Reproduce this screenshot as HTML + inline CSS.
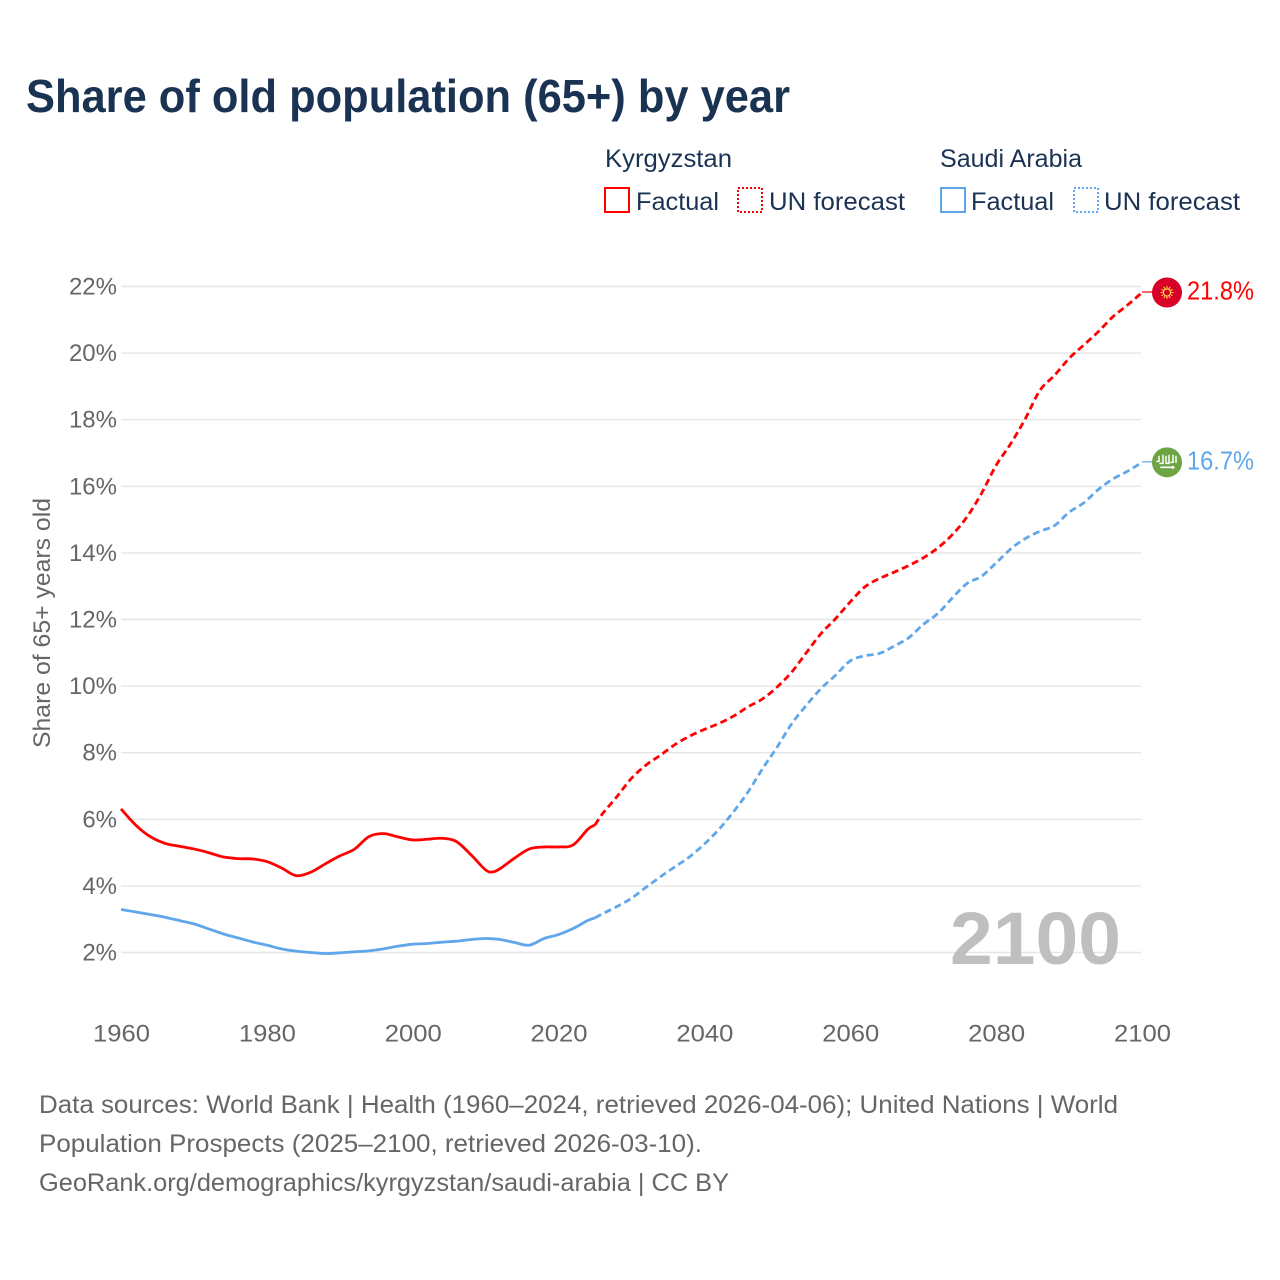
<!DOCTYPE html>
<html lang="en">
<head>
<meta charset="utf-8">
<title>Share of old population (65+) by year</title>
<style>
html,body{margin:0;padding:0;background:#fff}
svg{display:block}
text{font-family:"Liberation Sans",sans-serif}
</style>
</head>
<body>
<svg id="chart" xmlns="http://www.w3.org/2000/svg" width="1280" height="1280" viewBox="0 0 1280 1280">
  <rect width="1280" height="1280" fill="#fff"/>
  <text x="26" y="112" font-size="46" font-weight="700" fill="#1a3353" textLength="764" lengthAdjust="spacingAndGlyphs">Share of old population (65+) by year</text>

  <g font-size="25" fill="#1a3353">
    <text x="605" y="167" textLength="127" lengthAdjust="spacingAndGlyphs">Kyrgyzstan</text>
    <text x="940" y="167" textLength="142" lengthAdjust="spacingAndGlyphs">Saudi Arabia</text>
    <g>
      <rect x="605" y="188" width="24" height="24" fill="none" stroke="#ff0000" stroke-width="2"/>
      <text x="636" y="210" textLength="83" lengthAdjust="spacingAndGlyphs">Factual</text>
    </g>
    <g>
      <rect x="738" y="188" width="24" height="24" fill="none" stroke="#ff0000" stroke-width="2" stroke-dasharray="2 2"/>
      <text x="769" y="210" textLength="136" lengthAdjust="spacingAndGlyphs">UN forecast</text>
    </g>
    <g>
      <rect x="941" y="188" width="24" height="24" fill="none" stroke="#5fa6ea" stroke-width="2"/>
      <text x="971" y="210" textLength="83" lengthAdjust="spacingAndGlyphs">Factual</text>
    </g>
    <g>
      <rect x="1074" y="188" width="24" height="24" fill="none" stroke="#5fa6ea" stroke-width="2" stroke-dasharray="2 2"/>
      <text x="1104" y="210" textLength="136" lengthAdjust="spacingAndGlyphs">UN forecast</text>
    </g>
  </g>

  <text transform="translate(50,748) rotate(-90)" font-size="24" fill="#666" textLength="250" lengthAdjust="spacingAndGlyphs">Share of 65+ years old</text>

  <g id="grid"></g>
  <g id="yticks"></g>
  <g id="xticks"></g>

  <text x="950" y="964" font-size="74" font-weight="700" fill="#bfbfbf" textLength="171" lengthAdjust="spacingAndGlyphs">2100</text>

  <g id="series"></g>
  <g id="ends"></g>

  <g font-size="25" fill="#666">
    <text x="39" y="1113" textLength="1079" lengthAdjust="spacingAndGlyphs">Data sources: World Bank | Health (1960–2024, retrieved 2026-04-06); United Nations | World</text>
    <text x="39" y="1152" textLength="663" lengthAdjust="spacingAndGlyphs">Population Prospects (2025–2100, retrieved 2026-03-10).</text>
    <text x="39" y="1191" textLength="690" lengthAdjust="spacingAndGlyphs">GeoRank.org/demographics/kyrgyzstan/saudi-arabia | CC BY</text>
  </g>
</svg>
<script>
const years = [1960,1962,1964,1966,1968,1970,1972,1974,1976,1978,1980,1982,1984,1986,1988,1990,1992,1994,1996,1998,2000,2002,2004,2006,2008,2010,2011,2012,2014,2016,2018,2020,2022,2024,2025,2026,2028,2030,2032,2034,2036,2038,2040,2042,2044,2046,2048,2050,2052,2054,2056,2058,2060,2062,2064,2066,2068,2070,2072,2074,2076,2078,2080,2082,2084,2086,2088,2090,2092,2094,2096,2098,2100];
const kyrgyzstan = [6.31,5.83,5.48,5.28,5.19,5.11,5.0,4.87,4.82,4.81,4.73,4.54,4.31,4.41,4.66,4.9,5.1,5.48,5.57,5.47,5.38,5.4,5.43,5.33,4.93,4.48,4.42,4.52,4.84,5.11,5.17,5.17,5.23,5.7,5.83,6.16,6.68,7.23,7.63,7.93,8.25,8.5,8.7,8.88,9.1,9.38,9.62,9.98,10.43,11.01,11.58,12.03,12.53,12.98,13.23,13.42,13.62,13.85,14.15,14.55,15.08,15.79,16.63,17.28,18.03,18.88,19.33,19.84,20.24,20.64,21.09,21.44,21.82];
const saudiArabia = [3.29,3.22,3.14,3.06,2.96,2.86,2.71,2.56,2.44,2.32,2.22,2.11,2.04,2.0,1.97,1.99,2.02,2.05,2.11,2.19,2.25,2.27,2.31,2.34,2.39,2.42,2.41,2.39,2.3,2.22,2.42,2.54,2.72,2.96,3.04,3.16,3.38,3.63,3.96,4.28,4.58,4.88,5.26,5.7,6.23,6.83,7.53,8.18,8.88,9.43,9.93,10.33,10.76,10.91,10.98,11.2,11.45,11.85,12.18,12.65,13.08,13.3,13.7,14.12,14.43,14.65,14.82,15.22,15.5,15.9,16.22,16.45,16.72];
const lastFactualYear = 2025;
const yTickValues = [2,4,6,8,10,12,14,16,18,20,22];
const yTickLabels = ['2%','4%','6%','8%','10%','12%','14%','16%','18%','20%','22%'];
const xTickValues = [1960,1980,2000,2020,2040,2060,2080,2100];
const xTickLabels = ['1960','1980','2000','2020','2040','2060','2080','2100'];

const NS = 'http://www.w3.org/2000/svg';
function xScale(year){ return 121 + (year - 1960) * (1021 / 140); }
function yScale(v){ return 952.5 - (v - 2) * 33.3; }
function mk(tag, parent, props){
  const el = document.createElementNS(NS, tag);
  for (const k in props) el.setAttribute(k, props[k]);
  parent.appendChild(el);
  return el;
}
function smoothPath(pts){
  let d = 'M' + pts[0][0].toFixed(2) + ' ' + pts[0][1].toFixed(2);
  for (let i = 0; i < pts.length - 1; i++){
    const p0 = pts[Math.max(0, i - 1)], p1 = pts[i], p2 = pts[i + 1], p3 = pts[Math.min(pts.length - 1, i + 2)];
    const c1x = p1[0] + (p2[0] - p0[0]) / 6, c1y = p1[1] + (p2[1] - p0[1]) / 6;
    const c2x = p2[0] - (p3[0] - p1[0]) / 6, c2y = p2[1] - (p3[1] - p1[1]) / 6;
    d += 'C' + c1x.toFixed(2) + ' ' + c1y.toFixed(2) + ' ' + c2x.toFixed(2) + ' ' + c2y.toFixed(2) + ' ' + p2[0].toFixed(2) + ' ' + p2[1].toFixed(2);
  }
  return d;
}

const grid = document.getElementById('grid');
const yticks = document.getElementById('yticks');
const xticks = document.getElementById('xticks');
yTickValues.forEach(function(v, i){
  const line = mk('line', grid, {x1: 121, x2: 1141, y1: yScale(v), y2: yScale(v), stroke: '#e6e6e6', 'stroke-width': 1.4});
  
  
  const t = mk('text', yticks, {x: 117, y: yScale(v) + 8, 'text-anchor': 'end', 'font-size': 24, fill: '#666'});
  
  
  t.textContent = yTickLabels[i];
});
xTickValues.forEach(function(y, i){
  const t = mk('text', xticks, {x: xScale(y) + 0.5, y: 1041.5, 'text-anchor': 'middle', 'font-size': 24, fill: '#666', textLength: 57, lengthAdjust: 'spacingAndGlyphs'});
  
  
  t.textContent = xTickLabels[i];
});

const seriesG = document.getElementById('series');
function drawSeries(values, color, name){
  const pts = years.map(function(y, i){ return [xScale(y), yScale(values[i])]; });
  const split = years.indexOf(lastFactualYear);
  const factual = mk('path', seriesG, {d: smoothPath(pts.slice(0, split + 1)), fill: 'none', stroke: color, 'stroke-width': 2.8, 'stroke-linejoin': 'round'});
  
  
  const forecast = mk('path', seriesG, {d: smoothPath(pts.slice(split)), fill: 'none', stroke: color, 'stroke-width': 2.8, 'stroke-dasharray': '7 4'});
  
  
}
drawSeries(kyrgyzstan, '#ff0000', 'kyrgyzstan');
drawSeries(saudiArabia, '#5fa6ea', 'saudi-arabia');

const ends = document.getElementById('ends');
function drawEnd(values, color, flagFill, name){
  const v = values[values.length - 1];
  const y = yScale(v), x = xScale(2100);
  const leader = mk('line', ends, {x1: x, x2: 1153, y1: y - 0.5, y2: y - 0.5, stroke: color, 'stroke-width': 1.2});
  
  
  const flag = mk('circle', ends, {cx: 1167, cy: y, r: 15, fill: flagFill});
  
  
  const label = mk('text', ends, {x: 1187, y: y + 7, 'font-size': 25.5, fill: color, textLength: 67, lengthAdjust: 'spacingAndGlyphs'});
  
  
  label.textContent = v.toFixed(1) + '%';
  return y;
}
const ky = drawEnd(kyrgyzstan, '#ff0000', '#d80027', 'kyrgyzstan');
const sy = drawEnd(saudiArabia, '#5fa6ea', '#6da544', 'saudi-arabia');

const sun = mk('g', ends, {transform: 'translate(1167,' + ky + ')', fill: 'none', stroke: '#ffda44'});


mk('circle', sun, {r: 3.6, 'stroke-width': 1.2});
for (let a = 0; a < 12; a++){
  const r = a * Math.PI / 6;
  mk('line', sun, {x1: 4.4 * Math.cos(r), y1: 4.4 * Math.sin(r), x2: 6.4 * Math.cos(r), y2: 6.4 * Math.sin(r), 'stroke-width': 1.1});
}
const emblem = mk('g', ends, {transform: 'translate(1167,' + sy + ')', fill: 'none', stroke: '#fff', 'stroke-width': 1.5, 'stroke-linecap': 'round'});


mk('path', emblem, {d: 'M-8 -6V-1H-10M-4 -7V1H-7M-1 -6V0M2 -7V1H-1M6 -7V0H4M9 -6V0'});
mk('path', emblem, {d: 'M-6 5H5', 'stroke-width': 1.6});
mk('circle', emblem, {cx: 6, cy: 5, r: 1.2, fill: '#fff', 'stroke-width': 0.6});
</script>
</body>
</html>
